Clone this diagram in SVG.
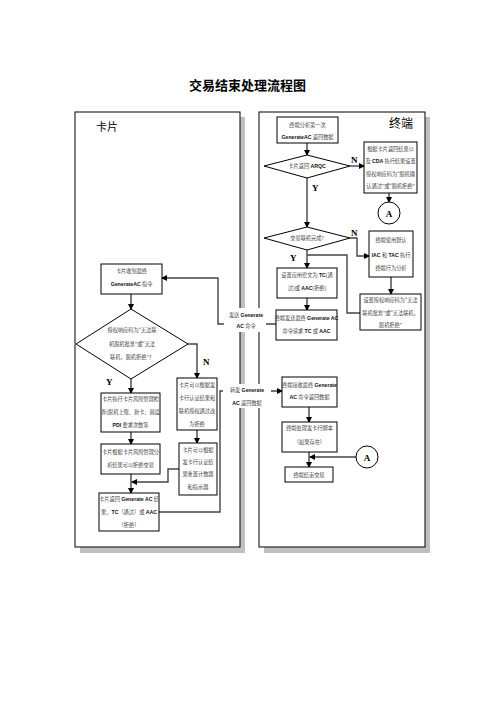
<svg xmlns="http://www.w3.org/2000/svg" width="496" height="702" viewBox="0 0 496 702">
<style>
.shadow{fill:#c0c0c0}
.panel{fill:#fff;stroke:#000;stroke-width:1}
.box{fill:#fff;stroke:#000;stroke-width:1}
.t{font-family:"Liberation Serif","Noto Sans CJK SC",serif;font-size:5.2px;fill:#444;text-anchor:middle}
.b{font-family:"Liberation Sans",sans-serif;font-weight:bold;fill:#111}
.yn{font-family:"Liberation Serif",serif;font-size:9px;font-weight:bold;fill:#000}
.conn{fill:none;stroke:#444;stroke-width:1.4}
.lbl{fill:#fff}
.hd{font-family:"Noto Sans CJK SC",sans-serif;fill:#000}
</style>
<defs>
<marker id="ah" markerWidth="6" markerHeight="6" refX="5" refY="3" orient="auto" markerUnits="userSpaceOnUse">
<path d="M0,0 L6,3 L0,6 z" fill="#000"/>
</marker>
</defs>
<rect width="496" height="702" fill="#fff"/>
<text x="247.5" y="90" class="hd" font-size="13" font-weight="bold" text-anchor="middle">交易结束处理流程图</text>

<g id="panel-card">
<rect class="shadow" x="80" y="117" width="165" height="436"/>
<rect class="panel" x="75" y="112" width="165" height="435"/>
<text x="96" y="131" class="hd" font-size="11">卡片</text>
</g>
<g id="panel-terminal">
<rect class="shadow" x="264" y="117" width="166" height="436"/>
<rect class="panel" x="259" y="112" width="166" height="435"/>
<text x="389" y="128" class="hd" font-size="12">终端</text>
</g>

<g id="connectors">
<line class="conn" x1="307" y1="143" x2="307" y2="155" marker-end="url(#ah)"/>
<line class="conn" x1="350" y1="166" x2="364" y2="166" marker-end="url(#ah)"/>
<line class="conn" x1="389" y1="193" x2="389" y2="202" marker-end="url(#ah)"/>
<line class="conn" x1="307" y1="178" x2="307" y2="227" marker-end="url(#ah)"/>
<path class="conn" d="M350,238 H357 V256 H369" marker-end="url(#ah)"/>
<line class="conn" x1="307" y1="250" x2="307" y2="268" marker-end="url(#ah)"/>
<line class="conn" x1="391" y1="277" x2="391" y2="294" marker-end="url(#ah)"/>
<path class="conn" d="M360,313 H347 V255 H307"/>
<line class="conn" x1="307" y1="298" x2="307" y2="310" marker-end="url(#ah)"/>
<path class="conn" d="M276,324 H218 V278 H162" marker-end="url(#ah)"/>
<path class="conn" d="M159,512 H220 V391 H282" marker-end="url(#ah)"/>
<line class="conn" x1="309" y1="407" x2="309" y2="422" marker-end="url(#ah)"/>
<line class="conn" x1="309" y1="452" x2="309" y2="467" marker-end="url(#ah)"/>
<line class="conn" x1="356" y1="457" x2="310" y2="457" marker-end="url(#ah)"/>
<line class="conn" x1="131" y1="294" x2="131" y2="309" marker-end="url(#ah)"/>
<path class="conn" d="M188,344 H197 V378" marker-end="url(#ah)"/>
<line class="conn" x1="131" y1="379" x2="131" y2="393" marker-end="url(#ah)"/>
<line class="conn" x1="131" y1="432" x2="131" y2="444" marker-end="url(#ah)"/>
<line class="conn" x1="197" y1="430" x2="197" y2="443" marker-end="url(#ah)"/>
<line class="conn" x1="131" y1="474" x2="131" y2="493" marker-end="url(#ah)"/>
<path class="conn" d="M179,469 H168 V482 H132" marker-end="url(#ah)"/>
<rect class="lbl" x="224" y="308" width="42" height="24"/>
<text class="t" x="246" y="317">发送 <tspan class="b">Generate</tspan></text>
<text class="t" x="246" y="328"><tspan class="b">AC</tspan> 命令</text>
<rect class="lbl" x="223" y="384" width="48" height="24"/>
<text class="t" x="247" y="392">转发 <tspan class="b">Generate</tspan></text>
<text class="t" x="247" y="405"><tspan class="b">AC</tspan> 返回数据</text>
<text class="yn" x="351" y="163">N</text>
<text class="yn" x="312" y="191">Y</text>
<text class="yn" x="351" y="236">N</text>
<text class="yn" x="290" y="261">Y</text>
<text class="yn" x="203" y="365">N</text>
<text class="yn" x="106" y="385">Y</text>
</g>

<g id="r1">
<rect class="box" x="277" y="117" width="61" height="26"/>
<text class="t" x="307.5" y="127">终端分析第一次</text>
<text class="t" x="307.5" y="139"><tspan class="b">GenerateAC</tspan> 返回数据</text>
</g>
<g id="d1">
<polygon class="box" points="307,155 350,166 307,178 264,166"/>
<text class="t" x="307" y="168">卡片返回 <tspan class="b">ARQC</tspan></text>
</g>
<g id="r3">
<rect class="box" x="364" y="142" width="53" height="51"/>
<text class="t" x="390.5" y="151">根据卡片返回结果以</text>
<text class="t" x="390.5" y="163">及 <tspan class="b">CDA</tspan> 执行结果设置</text>
<text class="t" x="390.5" y="176">授权响应码为“脱机确</text>
<text class="t" x="390.5" y="188">认通过”或“脱机拒绝”</text>
</g>
<g id="a1">
<circle class="box" cx="389" cy="213" r="11"/>
<text class="yn" x="389" y="216.5" text-anchor="middle">A</text>
</g>
<g id="d2">
<polygon class="box" points="307,227 350,238 307,250 264,238"/>
<text class="t" x="307" y="240">交易联机完成?</text>
</g>
<g id="r4">
<rect class="box" x="369" y="231" width="44" height="46"/>
<text class="t" x="391" y="242">终端使用默认</text>
<text class="t" x="391" y="257"><tspan class="b">IAC</tspan> 和 <tspan class="b">TAC</tspan> 执行</text>
<text class="t" x="391" y="270">终端行为分析</text>
</g>
<g id="r5">
<rect class="box" x="360" y="294" width="61" height="36"/>
<text class="t" x="390.5" y="302">设置授权响应码为“无法</text>
<text class="t" x="390.5" y="315">联机批准”或“无法联机，</text>
<text class="t" x="390.5" y="327">脱机拒绝”</text>
</g>
<g id="r6">
<rect class="box" x="277" y="268" width="60" height="30"/>
<text class="t" x="307" y="277">设置应用密文为 <tspan class="b">TC</tspan>(通</text>
<text class="t" x="307" y="290">过)或 <tspan class="b">AAC</tspan>(拒绝)</text>
</g>
<g id="r7">
<rect class="box" x="276" y="310" width="61" height="30"/>
<text class="t" x="306.5" y="320">终端发送最终 <tspan class="b">Generate AC</tspan></text>
<text class="t" x="306.5" y="333">命令请求 <tspan class="b">TC</tspan> 或 <tspan class="b">AAC</tspan></text>
</g>
<g id="r8">
<rect class="box" x="282" y="377" width="55" height="30"/>
<text class="t" x="309.5" y="387">终端接收最终 <tspan class="b">Generate</tspan></text>
<text class="t" x="309.5" y="399"><tspan class="b">AC</tspan> 命令返回数据</text>
</g>
<g id="r9">
<rect class="box" x="282" y="422" width="55" height="30"/>
<text class="t" x="309.5" y="430">终端处理发卡行脚本</text>
<text class="t" x="309.5" y="444">（如果存在）</text>
</g>
<g id="r10">
<rect class="box" x="285" y="467" width="48" height="15"/>
<text class="t" x="309" y="476.5">终端结束交易</text>
</g>
<g id="a2">
<circle class="box" cx="367" cy="457" r="11"/>
<text class="yn" x="367" y="460.5" text-anchor="middle">A</text>
</g>

<g id="l1">
<rect class="box" x="101" y="264" width="61" height="30"/>
<text class="t" x="131.5" y="273">卡片收到最终</text>
<text class="t" x="131.5" y="286"><tspan class="b">GenerateAC</tspan> 指令</text>
</g>
<g id="dl">
<polygon class="box" points="131,309 188,344 131,379 76,344"/>
<text class="t" x="132" y="332">授权响应码为“无法联</text>
<text class="t" x="132" y="346">机脱机批准”或“无法</text>
<text class="t" x="132" y="359">联机，脱机拒绝”？</text>
</g>
<g id="l2">
<rect class="box" x="101" y="393" width="59" height="39"/>
<text class="t" x="130.5" y="401">卡片执行卡片风险管理检</text>
<text class="t" x="130.5" y="414">查(脱机上限、新卡、频度</text>
<text class="t" x="130.5" y="427"><tspan class="b">PDI</tspan> 要求次数等</text>
</g>
<g id="l3">
<rect class="box" x="177" y="378" width="40" height="52"/>
<text class="t" x="197" y="387">卡片可以根据发</text>
<text class="t" x="197" y="400">卡行认证结果和</text>
<text class="t" x="197" y="413">联机授权通过改</text>
<text class="t" x="197" y="426">为拒绝</text>
</g>
<g id="l4">
<rect class="box" x="101" y="444" width="59" height="30"/>
<text class="t" x="130.5" y="454">卡片根据卡片风险管理分</text>
<text class="t" x="130.5" y="467">析结果可以拒绝交易</text>
</g>
<g id="l5">
<rect class="box" x="179" y="443" width="38" height="52"/>
<text class="t" x="198" y="452">卡片可以根据</text>
<text class="t" x="198" y="464">发卡行认证结</text>
<text class="t" x="198" y="476">果重置计数器</text>
<text class="t" x="198" y="489">和指示器</text>
</g>
<g id="l6">
<rect class="box" x="99" y="493" width="60" height="38"/>
<text class="t" x="129" y="501">卡片返回 <tspan class="b">Generate AC</tspan> 结</text>
<text class="t" x="129" y="514">果，<tspan class="b">TC</tspan>（通过）或 <tspan class="b">AAC</tspan></text>
<text class="t" x="129" y="527">（拒绝）</text>
</g>
</svg>
